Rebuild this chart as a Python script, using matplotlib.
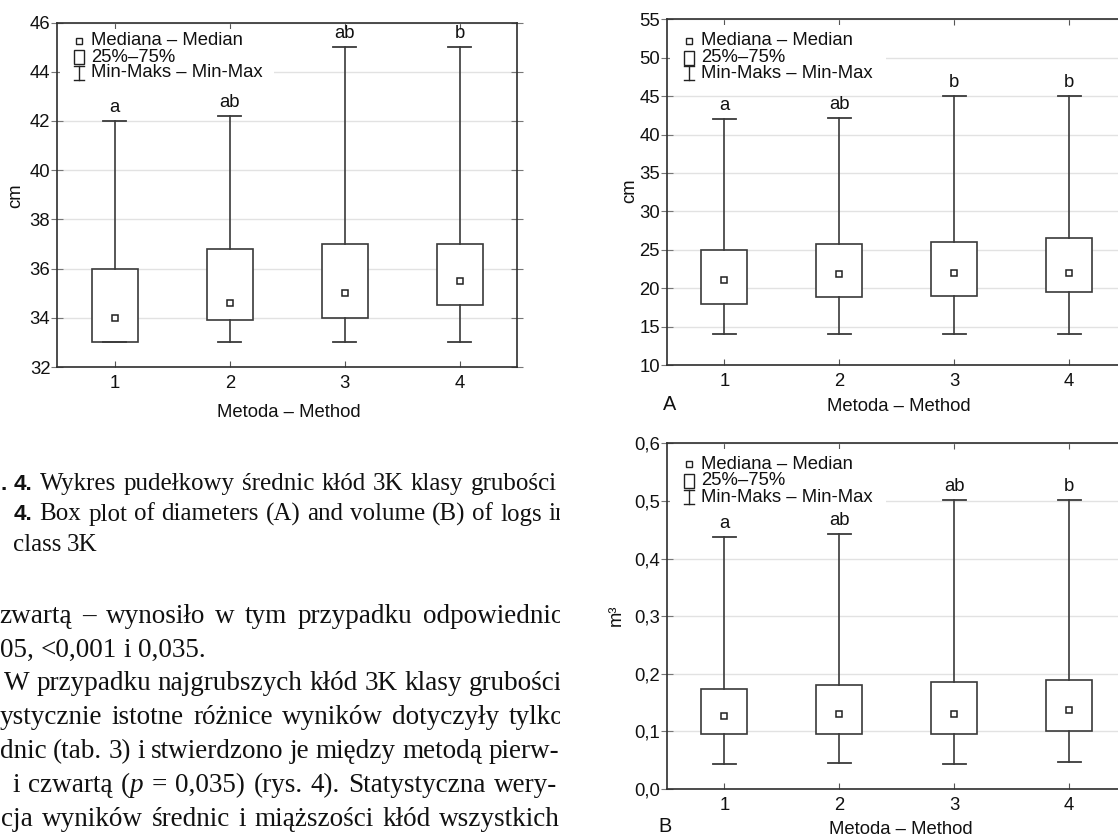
import matplotlib
matplotlib.use("Agg")
import matplotlib.pyplot as plt
from matplotlib.patches import Rectangle
from matplotlib.lines import Line2D
from matplotlib.transforms import Bbox, TransformedBbox
from matplotlib.ticker import FuncFormatter

# ---------------- data ----------------
methods = [1, 2, 3, 4]
method_labels = ["1", "2", "3", "4"]

# left chart - diameters of the thickest logs (cm)
d_min = [33.0, 33.0, 33.0, 33.0]
d_q1 = [33.0, 33.9, 34.0, 34.5]
d_med = [34.0, 34.6, 35.0, 35.5]
d_q3 = [36.0, 36.8, 37.0, 37.0]
d_max = [42.0, 42.2, 45.0, 45.0]
d_letters = ["a", "ab", "ab", "b"]
d_yticks = [32, 34, 36, 38, 40, 42, 44, 46]

# panel A - diameters (cm)
a_min = [14.0, 14.0, 14.0, 14.0]
a_q1 = [18.0, 18.9, 19.0, 19.5]
a_med = [21.0, 21.9, 22.0, 22.0]
a_q3 = [25.0, 25.8, 26.0, 26.5]
a_max = [42.0, 42.2, 45.0, 45.0]
a_letters = ["a", "ab", "b", "b"]
a_yticks = [10, 15, 20, 25, 30, 35, 40, 45, 50, 55]

# panel B - volume (m3)
b_min = [0.044, 0.045, 0.044, 0.047]
b_q1 = [0.095, 0.095, 0.095, 0.100]
b_med = [0.126, 0.130, 0.131, 0.137]
b_q3 = [0.173, 0.180, 0.186, 0.189]
b_max = [0.438, 0.442, 0.501, 0.501]
b_letters = ["a", "ab", "ab", "b"]
b_yticks = [0.0, 0.1, 0.2, 0.3, 0.4, 0.5, 0.6]

legend_labels = ["Mediana \u2013 Median", "25%\u201375%", "Min-Maks \u2013 Min-Max"]
x_title = "Metoda \u2013 Method"

caption_lines = [
    [[(".", "sb")], [("4.", "sb")], "Wykres", "pude\u0142kowy", "\u015brednic", "k\u0142\u00f3d", "3K", "klasy", "grubo\u015bci"],
    [[("4.", "sb")], "Box", "plot", "of", "diameters", "(A)", "and", "volume", "(B)", "of", "logs", "in"],
    ["class", "3K"],
]
paragraph_lines = [
    ["zwart\u0105", "\u2013", "wynosi\u0142o", "w", "tym", "przypadku", "odpowiednio"],
    ["05,", "<0,001", "i", "0,035."],
    ["W", "przypadku", "najgrubszych", "k\u0142\u00f3d", "3K", "klasy", "grubo\u015bci"],
    ["ystycznie", "istotne", "r\u00f3\u017cnice", "wynik\u00f3w", "dotyczy\u0142y", "tylko"],
    ["dnic", "(tab.", "3)", "i", "stwierdzono", "je", "mi\u0119dzy", "metod\u0105", "pierw-"],
    ["i", "czwart\u0105", [("(", "r"), ("p", "i")], "=", "0,035)", "(rys.", "4).", "Statystyczna", "wery-"],
    ["cja", "wynik\u00f3w", "\u015brednic", "i", "mi\u0105\u017cszo\u015bci", "k\u0142\u00f3d", "wszystkich"],
]

# ---------------- layout ----------------
W, H = 1118, 839
fig = plt.figure(figsize=(W / 100, H / 100), dpi=100)
fig.patch.set_facecolor("white")
SANS = "Liberation Sans"
SERIF = "Liberation Serif"
EDGE = "#3a3a3a"
GRID = "#e2e2e2"
SPINE = "#2e2e2e"
FS = 13.3


def fx(x):
    return x / W


def fy(y):
    return 1 - y / H


def panel(box, mins, q1s, meds, q3s, maxs, letters, yticks, fmt, ylabel, ylabel_xy,
          xlabel_xy, leg_offs, leg_w, corner=None):
    x0, y0, x1, y1, xr = box
    ax = fig.add_axes([fx(x0), fy(y1), (x1 - x0) / W, (y1 - y0) / H])
    stats = [dict(whislo=mn, q1=a, med=m, q3=b, whishi=mx, fliers=[])
             for mn, a, m, b, mx in zip(mins, q1s, meds, q3s, maxs)]
    ax.bxp(stats, positions=methods, widths=0.4, capwidths=0.2, showfliers=False,
           patch_artist=True, manage_ticks=False,
           boxprops=dict(facecolor="white", edgecolor=EDGE, linewidth=1.2),
           whiskerprops=dict(color=EDGE, linewidth=1.2),
           capprops=dict(color=EDGE, linewidth=1.3),
           medianprops=dict(linewidth=0))
    ax.plot(methods, meds, ls="none", marker="s", ms=4.8, mfc="white", mec="#222222",
            mew=1.1, zorder=5)
    for p, mx, lab in zip(methods, maxs, letters):
        ax.annotate(lab, (p, mx), xytext=(0, 6.5), textcoords="offset points",
                    ha="center", va="baseline", fontsize=FS, family=SANS, color="#111111")
    ax.set_xlim(0.5, xr)
    ax.set_ylim(yticks[0], yticks[-1])
    ax.set_yticks(yticks)
    ax.yaxis.set_major_formatter(FuncFormatter(fmt))
    ax.set_xticks(methods)
    ax.set_xticklabels(method_labels)
    ax.grid(axis="y", color=GRID, linewidth=1.0)
    ax.set_axisbelow(True)
    for s in ax.spines.values():
        s.set_color(SPINE)
        s.set_linewidth(1.2)
    ax.tick_params(axis="x", direction="in", length=4, top=True, bottom=True,
                   color="#555555", labelsize=FS, pad=6, labelcolor="#111111")
    ax.tick_params(axis="y", direction="inout", length=8, left=True, right=True,
                   color="#777777", labelsize=FS, pad=1, labelcolor="#111111")
    for lab in ax.get_xticklabels() + ax.get_yticklabels():
        lab.set_family(SANS)
    fig.text(fx(ylabel_xy[0]), fy(ylabel_xy[1]), ylabel, rotation=90, ha="center",
             va="center", fontsize=FS, family=SANS, color="#111111")
    fig.text(fx(xlabel_xy[0]), fy(xlabel_xy[1]), x_title, ha="center", va="center",
             fontsize=FS, family=SANS, color="#111111")
    if corner is not None:
        fig.text(fx(corner[1]), fy(corner[2]), corner[0], ha="center", va="center",
                 fontsize=FS + 1, family=SANS, color="#111111")
    # legend
    mxp = x0 + 22
    tx = x0 + 34
    ry = [y0 + o for o in leg_offs]
    fig.add_artist(Rectangle((fx(x0 + 3), fy(ry[2] + 10)), leg_w / W,
                             (ry[2] + 10 - (y0 + 6)) / H, transform=fig.transFigure,
                             facecolor="white", edgecolor="none", zorder=3))
    fig.add_artist(Line2D([fx(mxp)], [fy(ry[0])], transform=fig.transFigure, ls="none",
                          marker="s", ms=3.8, mfc="white", mec="#222222", mew=1.0, zorder=4))
    fig.add_artist(Rectangle((fx(mxp - 5), fy(ry[1] + 7)), 10 / W, 14 / H,
                             transform=fig.transFigure, facecolor="white",
                             edgecolor="#222222", linewidth=1.0, zorder=4))
    fig.add_artist(Line2D([fx(mxp), fx(mxp)], [fy(ry[2] - 7), fy(ry[2] + 7)],
                          transform=fig.transFigure, color="#222222", lw=1.0, zorder=4))
    for yy in (ry[2] - 7, ry[2] + 7):
        fig.add_artist(Line2D([fx(mxp - 5), fx(mxp + 5)], [fy(yy), fy(yy)],
                              transform=fig.transFigure, color="#222222", lw=1.0, zorder=4))
    for lab, yy in zip(legend_labels, ry):
        fig.text(fx(tx), fy(yy), lab, ha="left", va="center", fontsize=FS, family=SANS,
                 color="#111111", zorder=5)
    return ax


def plain(v, pos):
    return f"{v:g}"


def comma(v, pos):
    return f"{v:.1f}".replace(".", ",")


STEP = 114.9
# left chart
panel((57.3, 22.5, 517.0, 367.0, 4.5), d_min, d_q1, d_med, d_q3, d_max, d_letters,
      d_yticks, plain, "cm", (16, 196), (289, 413), (18, 34.5, 50), 214)
# right top (A)
rx0, rx1 = 667.0, 1190.0
xr = 0.5 + (rx1 - rx0) / STEP
panel((rx0, 19.3, rx1, 365.0, xr), a_min, a_q1, a_med, a_q3, a_max, a_letters,
      a_yticks, plain, "cm", (629.5, 191), (899, 407), (21.5, 38.5, 54), 216,
      corner=("A", 670, 405))
# right bottom (B)
panel((rx0, 443.3, rx1, 789.0, xr), b_min, b_q1, b_med, b_q3, b_max, b_letters,
      b_yticks, comma, "m\u00b3", (616, 615), (901, 829), (21, 37.5, 54), 216,
      corner=("B", 665, 826))

# ---------------- text of the page ----------------
renderer = fig.canvas.get_renderer()
clip = TransformedBbox(Bbox.from_extents(0, 0, 560 / W, 1), fig.transFigure)


def props(kind, size):
    if kind == "sb":
        return dict(family=SANS, weight="bold", size=size * 0.9)
    if kind == "i":
        return dict(family=SERIF, style="italic", size=size)
    return dict(family=SERIF, size=size)


def width(s, kind, size):
    t = fig.text(0, 0, s, **props(kind, size))
    w = t.get_window_extent(renderer).width
    t.remove()
    return w


def norm(word):
    return [(word, "r")] if isinstance(word, str) else word


def draw_line(words, x0, yb, size, x1=None):
    words = [norm(w) for w in words]
    wlens = [[width(s, k, size) for s, k in w] for w in words]
    total = sum(sum(l) for l in wlens)
    space = width("n n", "r", size) - width("nn", "r", size)
    if x1 is None or len(words) < 2:
        gap = space
    else:
        gap = max((x1 - x0 - total) / (len(words) - 1), space * 0.6)
    x = x0
    for w, ls in zip(words, wlens):
        for (s, k), l in zip(w, ls):
            t = fig.text(fx(x), fy(yb), s, ha="left", va="baseline", color="#111111",
                         **props(k, size))
            t.set_clip_box(clip)
            t.set_clip_on(True)
            x += l
        x += gap


CAP = 18.0
PAR = 19.5
cap_y = [490, 520.5, 551]
draw_line(caption_lines[0], 0.0, cap_y[0], CAP, 557)
draw_line(caption_lines[1], 14.0, cap_y[1], CAP, 568)
draw_line(caption_lines[2], 12.5, cap_y[2], CAP)

par_x0 = [-1.0, 0.0, 3.6, 0.0, 0.0, 12.5, 1.5]
par_x1 = [564, None, 562, 564, 559, 557, 560]
par_y = [623, 657, 690.5, 724, 758, 792, 826]
for words, a, b, yb in zip(paragraph_lines, par_x0, par_x1, par_y):
    draw_line(words, a, yb, PAR, b)

fig.savefig("out.png", dpi=100, facecolor="white")
